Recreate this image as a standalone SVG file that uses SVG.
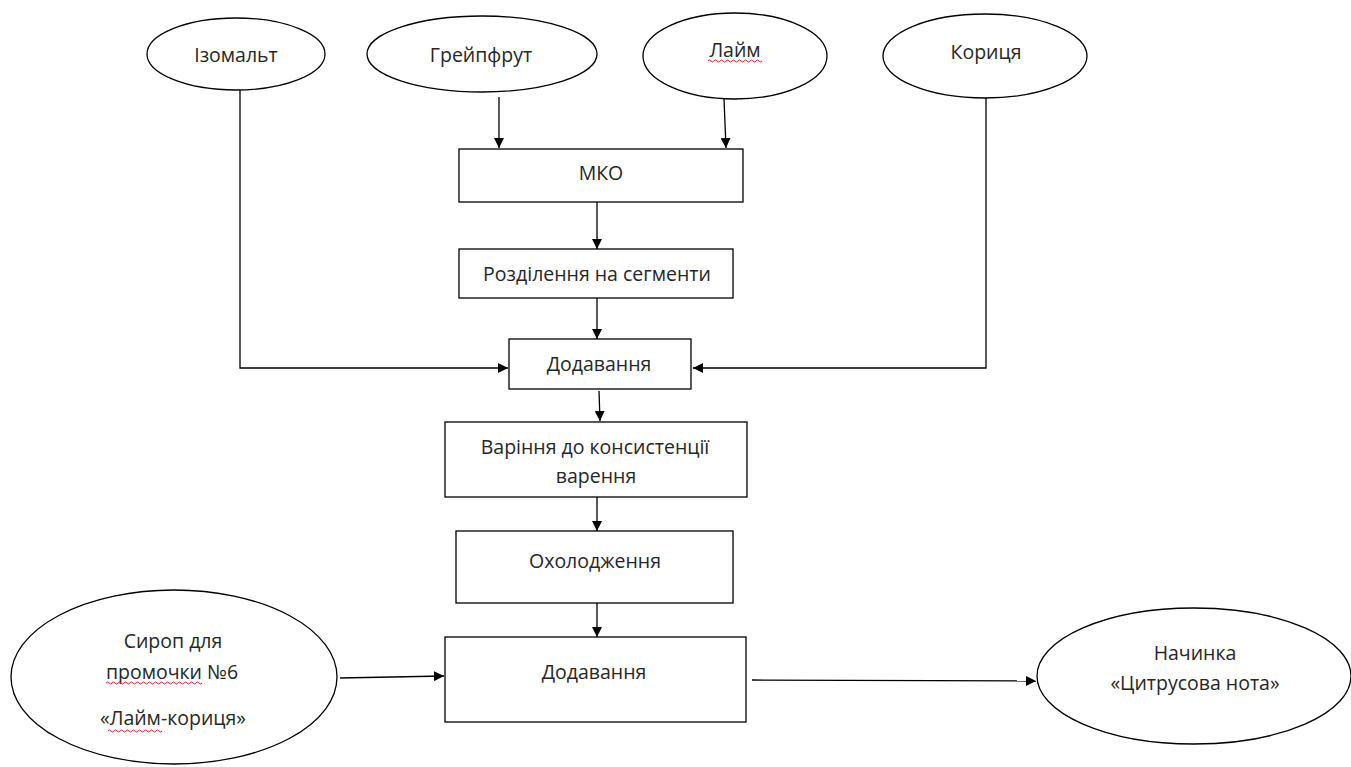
<svg xmlns="http://www.w3.org/2000/svg" width="1351" height="767" viewBox="0 0 1351 767">
<defs>
<marker id="arr" viewBox="0 0 10 10" refX="10" refY="5" markerWidth="10" markerHeight="10" markerUnits="userSpaceOnUse" orient="auto">
<path d="M0,0 L10,5 L0,10 z" fill="#000"/>
</marker>
<style>
.n{fill:#fff;stroke:#000;stroke-width:1.3}
.t{font-family:"Open Sans","Liberation Sans",sans-serif;font-size:19.5px;fill:#262626;text-anchor:middle}
.c{fill:none;stroke:#000;stroke-width:1.3;marker-end:url(#arr)}
.sq{fill:none;stroke:#e02020;stroke-width:1}
</style>
</defs>
<rect width="1351" height="767" fill="#fff"/>
<g id="connectors">
<path class="c" d="M499,97 L499,148"/>
<path class="c" d="M724,99 L726,148"/>
<path class="c" d="M240,90 L240,368 L508,368"/>
<path class="c" d="M986,98 L986,368 L693,368"/>
<path class="c" d="M597,202 L597,249"/>
<path class="c" d="M597,298 L597,339"/>
<path class="c" d="M599,391 L600,421"/>
<path class="c" d="M597,497 L597,531"/>
<path class="c" d="M597,603 L597,637"/>
<path class="c" d="M340,678 L444,676"/>
<path class="c" d="M752,680 L1036,681"/>
</g>
<g id="izomalt">
<ellipse class="n" cx="236" cy="54" rx="89" ry="36"/>
<text class="t" x="236" y="62">Ізомальт</text>
</g>
<g id="greipfrut">
<ellipse class="n" cx="482" cy="54" rx="115" ry="38"/>
<text class="t" x="481" y="62">Грейпфрут</text>
</g>
<g id="laim">
<ellipse class="n" cx="735" cy="56" rx="92" ry="43"/>
<text class="t" x="735" y="57">Лайм</text>
<path class="sq" d="M708,61 q1.5,-2 3,0 t3,0 t3,0 t3,0 t3,0 t3,0 t3,0 t3,0 t3,0 t3,0 t3,0 t3,0 t3,0 t3,0 t3,0 t3,0 t3,0 t3,0"/>
</g>
<g id="korytsia">
<ellipse class="n" cx="985" cy="56" rx="102" ry="42"/>
<text class="t" x="986" y="59">Кориця</text>
</g>
<g id="mko">
<rect class="n" x="459" y="149" width="284" height="53"/>
<text class="t" x="601" y="180">МКО</text>
</g>
<g id="rozdilennia">
<rect class="n" x="459" y="249" width="274" height="49"/>
<text class="t" x="597" y="281">Розділення на сегменти</text>
</g>
<g id="dodavannia1">
<rect class="n" x="509" y="339" width="182" height="50"/>
<text class="t" x="599" y="371">Додавання</text>
</g>
<g id="varinnia">
<rect class="n" x="445" y="422" width="302" height="75"/>
<text class="t" x="595" y="454">Варіння до консистенції</text>
<text class="t" x="596" y="483">варення</text>
</g>
<g id="okholodzhennia">
<rect class="n" x="456" y="531" width="277" height="72"/>
<text class="t" x="595" y="568">Охолодження</text>
</g>
<g id="dodavannia2">
<rect class="n" x="445" y="637" width="301" height="85"/>
<text class="t" x="594" y="679">Додавання</text>
</g>
<g id="syrop">
<ellipse class="n" cx="174" cy="677" rx="163" ry="87"/>
<text class="t" x="173" y="648">Сироп для</text>
<text class="t" x="172" y="679">промочки №6</text>
<text class="t" x="173" y="725">«Лайм-кориця»</text>
<path class="sq" d="M106,683 q1.5,-2 3,0 t3,0 t3,0 t3,0 t3,0 t3,0 t3,0 t3,0 t3,0 t3,0 t3,0 t3,0 t3,0 t3,0 t3,0 t3,0 t3,0 t3,0 t3,0 t3,0 t3,0 t3,0 t3,0 t3,0 t3,0 t3,0 t3,0 t3,0 t3,0 t3,0 t3,0 t3,0"/>
<path class="sq" d="M108,731 q1.5,-2 3,0 t3,0 t3,0 t3,0 t3,0 t3,0 t3,0 t3,0 t3,0 t3,0 t3,0 t3,0 t3,0 t3,0 t3,0 t3,0 t3,0 t3,0"/>
</g>
<g id="nachynka">
<ellipse class="n" cx="1194" cy="676" rx="157" ry="68"/>
<text class="t" x="1195" y="660">Начинка</text>
<text class="t" x="1195" y="690">«Цитрусова нота»</text>
</g>
</svg>
